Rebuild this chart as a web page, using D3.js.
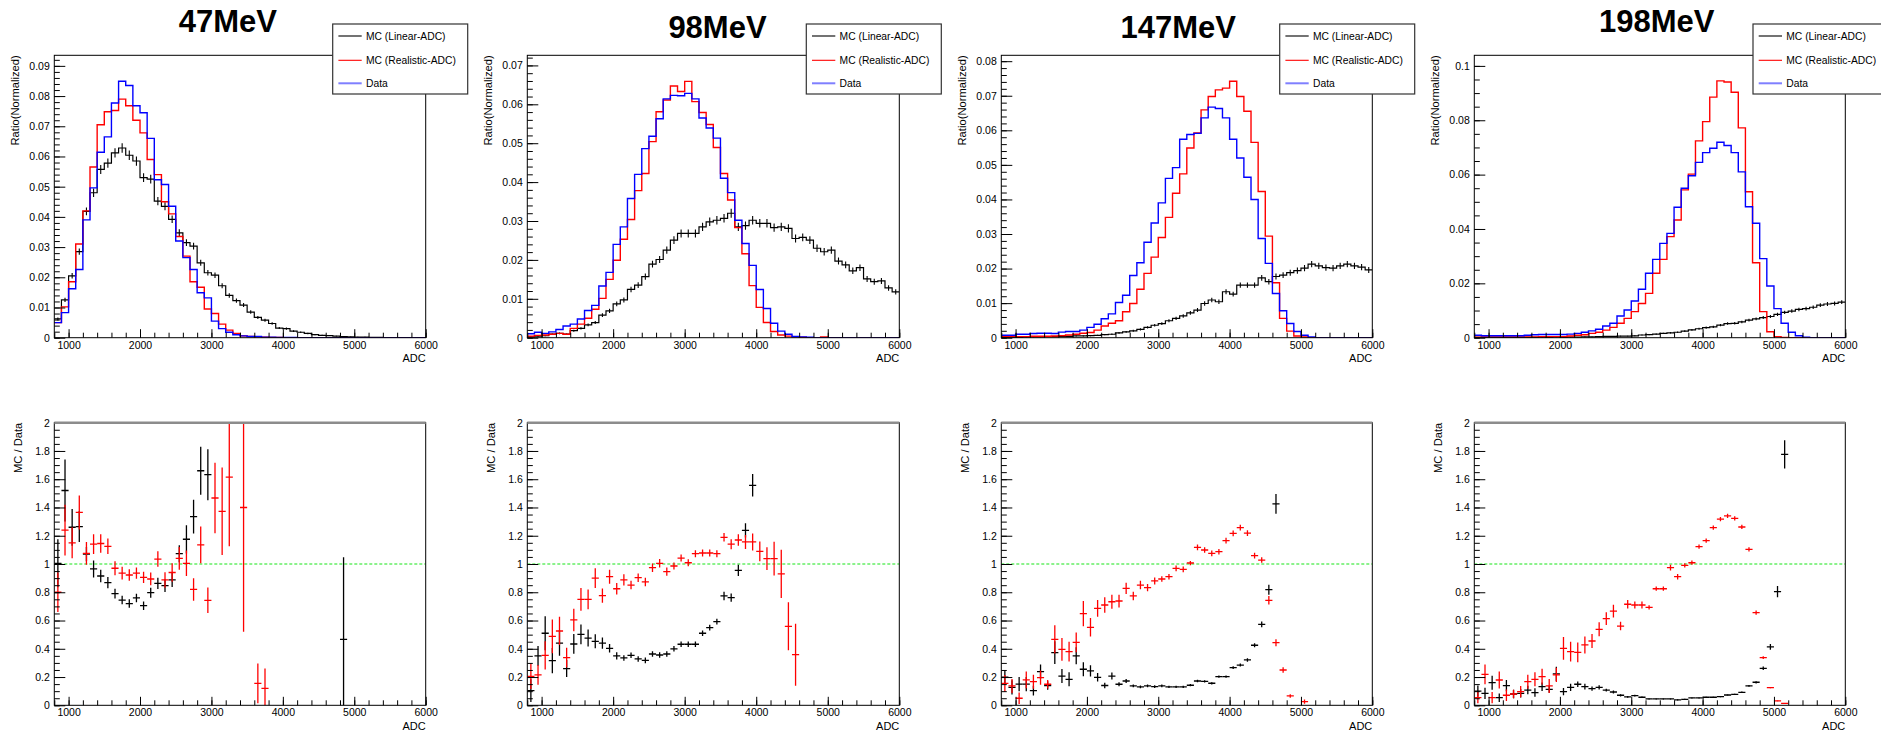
<!DOCTYPE html>
<html>
<head>
<meta charset="utf-8">
<script src="https://cdnjs.cloudflare.com/ajax/libs/d3/7.8.5/d3.min.js"></script>
<style>
body { margin: 0; background: #fff; }
svg { display: block; font-family: "Liberation Sans", Arial, Helvetica, sans-serif; }
</style>
</head>
<body>
<script>
// ADC histograms, 100-wide bins starting at 800
var binStart = 800, binWidth = 100, nBins = 52;
var energies = ["47MeV", "98MeV", "147MeV", "198MeV"];
var legendLabels = ["MC (Linear-ADC)", "MC (Realistic-ADC)", "Data"];
var xMajorTicks = [1000, 2000, 3000, 4000, 5000, 6000];

// ---- 47 MeV
var data47 = [.0050,.0083,.0162,.0226,.0390,.0496,.0614,.0665,.0777,.0849,.0835,.0768,.0745,.0660,.0523,.0507,.0435,.0320,.0265,.0226,.0149,.0132,.0055,.0030,.0018,.0010,.0006,.0004,.0004,.0002,.0002,.0001,.0001,.0001,0,0,0,0,0,0,0,0,0,0,0,0,0,0,0,0,0,0];
var realistic47 = [.0050,.0102,.0185,.0310,.0420,.0565,.0705,.0748,.0752,.0790,.0768,.0720,.0678,.0590,.0540,.0450,.0410,.0335,.0270,.0185,.0167,.0095,.0080,.0045,.0025,.0014,.0006,.0004,.0003,.0002,.0001,.0001,0,0,0,0,0,0,0,0,0,0,0,0,0,0,0,0,0,0,0,0];
var linear47 = [.0062,.0125,.0205,.0285,.0418,.0480,.0557,.0578,.0612,.0628,.0604,.0585,.0530,.0525,.0452,.0435,.0392,.0347,.0315,.0303,.0248,.0215,.0207,.0172,.0140,.0123,.0108,.0085,.0067,.0058,.0047,.0032,.0030,.0022,.0018,.0014,.0010,.0008,.0007,.0005,.0004,.0003,.0002,.0002,.0001,.0001,0,0,0,0,0,0];
var ratioLin47 = [1.005,1.52,1.26,1.265,1.07,.965,.915,.868,.79,.745,.72,.76,.705,.797,.863,.847,.887,1.073,1.175,1.335,1.66,1.632,null,null,null,null,null,null,null,null,null,null,null,null,null,null,null,null,null,null,.467];
var ratioLinErr47 = [.17,.22,.13,.11,.05,.06,.045,.04,.035,.03,.03,.03,.03,.035,.04,.045,.05,.06,.1,.12,.17,.18,null,null,null,null,null,null,null,null,null,null,null,null,null,null,null,null,null,null,.58];
var ratioReal47 = [.80,1.24,1.15,1.365,1.075,1.14,1.145,1.125,.97,.935,.922,.936,.905,.894,1.035,.887,.94,1.04,1.005,.82,1.135,.743,1.467,1.373,1.615,null,1.4,null,.155,.12];
var ratioRealErr47 = [.14,.18,.11,.12,.08,.07,.065,.055,.05,.045,.04,.04,.04,.045,.055,.055,.065,.08,.09,.08,.13,.09,.25,.31,.49,null,.88,null,.14,.14];

// ---- 98 MeV
var data98 = [.0010,.0014,.0011,.0015,.0021,.0030,.0035,.0048,.0070,.0083,.0133,.0168,.0240,.0285,.0358,.0420,.0486,.0518,.0563,.0614,.0623,.0622,.0628,.0614,.0565,.0539,.0513,.0410,.0373,.0302,.0242,.0186,.0124,.0075,.0037,.0017,.0009,.0003,.0002,.0001,0,0,0,0,0,0,0,0,0,0,0,0];
var realistic98 = [.0004,.0006,.0007,.0009,.0011,.0009,.0024,.0035,.0050,.0073,.0101,.0150,.0199,.0253,.0304,.0378,.0422,.0504,.0581,.0611,.0647,.0633,.0659,.0607,.0579,.0548,.0489,.0422,.0354,.0283,.0216,.0134,.0078,.0039,.0016,.0007,.0004,.0002,.0001,0,0,.0002,0,0,0,0,0,0,0,0,0,0];
var linear98 = [.0002,.0004,.0005,.0009,.0011,.0009,.0018,.0024,.0033,.0039,.0058,.0069,.0087,.0097,.0124,.0135,.0157,.0189,.0201,.0225,.0251,.0268,.0268,.0268,.0285,.0298,.0302,.0307,.0320,.0285,.0288,.0302,.0294,.0294,.0283,.0285,.0281,.0255,.0258,.0251,.0230,.0221,.0225,.0197,.0187,.0172,.0180,.0151,.0144,.0146,.0128,.0118];
var ratioLin98 = [.104,.35,.51,.316,.44,.26,.434,.502,.476,.453,.44,.403,.35,.335,.354,.328,.318,.363,.356,.363,.40,.432,.432,.432,.51,.55,.592,.774,.762,.955,1.238,1.557];
var ratioLinErr98 = [.08,.07,.12,.09,.09,.06,.07,.07,.06,.05,.04,.03,.025,.02,.02,.02,.02,.02,.02,.02,.02,.02,.02,.02,.02,.02,.02,.03,.03,.04,.05,.08];
var ratioReal98 = [.205,.215,.354,.488,.526,.337,.604,.75,.75,.9,.776,.91,.825,.887,.851,.903,.873,.974,1.005,.946,.986,1.042,1.009,1.073,1.078,1.078,1.073,1.189,1.14,1.17,1.156,1.156,1.09,1.038,1.038,.93,.559,.358];
var ratioRealErr98 = [.09,.07,.1,.12,.1,.07,.08,.08,.07,.07,.05,.05,.04,.04,.03,.03,.03,.03,.03,.03,.025,.025,.025,.025,.025,.025,.025,.03,.035,.04,.05,.06,.07,.08,.12,.17,.17,.22];

// ---- 147 MeV
var data147 = [.0007,.0007,.0010,.0010,.0012,.0013,.0013,.0012,.0016,.0018,.0018,.0022,.0030,.0039,.0055,.0069,.0102,.0123,.0180,.0217,.0276,.0332,.0390,.0461,.0492,.0574,.0588,.0591,.0636,.0667,.0663,.0636,.0574,.0520,.0464,.0400,.0287,.0215,.0128,.0078,.0041,.0018,.0007,.0002,0,0,0,0,0,0,0,0];
var realistic147 = [.0003,.0003,.0003,.0003,.0004,.0004,.0004,.0005,.0006,.0008,.0010,.0013,.0015,.0022,.0034,.0042,.0049,.0075,.0099,.0140,.0186,.0233,.0290,.0348,.0418,.0474,.0549,.0592,.0659,.0698,.0717,.0722,.0742,.0698,.0655,.0565,.0423,.0294,.0159,.0056,.0019,.0005,.0002,0,0,0,0,0,0,0,0,0];
var linear147 = [.0001,.0001,.0001,.0002,.0002,.0002,.0003,.0003,.0004,.0004,.0005,.0005,.0006,.0007,.0009,.0010,.0014,.0017,.0020,.0024,.0030,.0036,.0041,.0049,.0056,.0063,.0072,.0080,.0099,.0109,.0104,.0133,.0126,.0152,.0152,.0152,.0173,.0162,.0177,.0181,.0188,.0194,.0201,.0213,.0208,.0203,.0201,.0208,.0213,.0208,.0204,.0196];
var ratioLin147 = [.2,.127,.15,.15,.104,.238,.14,.373,.207,.184,.35,.255,.243,.198,.14,.207,.149,.172,.137,.13,.137,.132,.137,.13,.13,.13,.142,.172,.17,.156,.203,.203,.267,.285,.321,.425,.573,.818,1.425];
var ratioLinErr147 = [.05,.05,.05,.05,.035,.05,.03,.08,.05,.05,.06,.05,.04,.03,.02,.025,.015,.015,.01,.01,.01,.01,.01,.008,.008,.008,.008,.008,.008,.008,.008,.008,.01,.01,.012,.015,.02,.035,.07];
var ratioReal147 = [.155,.137,.05,.18,.167,.196,.149,.467,.396,.38,.446,.649,.552,.686,.71,.733,.738,.828,.774,.851,.833,.88,.894,.91,.969,.962,1.007,1.118,1.099,1.075,1.087,1.165,1.217,1.257,1.219,1.059,1.028,.743,.443,.25,.066,null,.026];
var ratioRealErr147 = [.06,.05,.04,.06,.05,.05,.03,.1,.08,.07,.07,.09,.065,.06,.055,.05,.045,.04,.03,.03,.025,.025,.02,.02,.02,.02,.015,.02,.02,.02,.02,.02,.02,.02,.02,.02,.02,.03,.025,.02,.012,null,.015];

// ---- 198 MeV
var data198 = [.0009,.0007,.0007,.0007,.0007,.0007,.0007,.0009,.0011,.0012,.0012,.0012,.0012,.0013,.0016,.0020,.0025,.0031,.0043,.0053,.0080,.0102,.0135,.0178,.0237,.0288,.0347,.0384,.0480,.0550,.0596,.0645,.0681,.0697,.0719,.0707,.0681,.0610,.0482,.0421,.0291,.0190,.0107,.0053,.0020,.0007,.0002,0,0,0,0,0];
var realistic198 = [.0002,.0003,.0003,.0003,.0003,.0003,.0003,.0003,.0003,.0004,.0004,.0004,.0004,.0006,.0009,.0011,.0016,.0020,.0028,.0038,.0053,.0071,.0096,.0126,.0163,.0237,.0288,.0372,.0433,.0544,.0602,.0724,.0795,.0885,.0945,.0941,.0903,.0772,.0537,.0276,.0096,.0022,.0004,.0001,0,0,0,0,0,0,0,0];
var linear198 = [.0001,.0001,.0001,.0001,.0001,.0001,.0001,.0001,.0001,.0002,.0001,.0003,.0001,.0002,.0002,.0003,.0003,.0004,.0005,.0005,.0006,.0006,.0007,.0010,.0011,.0013,.0016,.0018,.0020,.0024,.0029,.0033,.0037,.0040,.0046,.0052,.0053,.0058,.0065,.0069,.0074,.0078,.0086,.0093,.0098,.0104,.0107,.0112,.0120,.0124,.0126,.0131];
var ratioLin198 = [.101,.085,.16,.054,.139,.08,.085,.108,.09,.132,.113,.222,.097,.127,.149,.132,.118,.127,.108,.094,.071,.059,.068,.057,.045,.045,.045,.045,.038,.042,.052,.052,.057,.057,.061,.073,.078,.092,.137,.163,.262,.413,.804,1.776];
var ratioLinErr198 = [.04,.04,.05,.03,.04,.03,.03,.03,.03,.03,.025,.05,.025,.025,.02,.02,.015,.015,.01,.01,.008,.006,.006,.005,.004,.004,.004,.004,.004,.004,.004,.004,.004,.004,.004,.004,.004,.005,.006,.008,.012,.02,.04,.1];
var ratioReal198 = [.054,.219,.054,.179,.071,.08,.097,.167,.184,.203,.137,.215,.403,.38,.375,.427,.455,.538,.613,.667,.561,.715,.71,.71,.693,.825,.825,.974,.91,.99,1.009,1.123,1.165,1.257,1.318,1.34,1.323,1.262,1.104,.656,.337,.125,.031,.014];
var ratioRealErr198 = [.04,.07,.04,.06,.04,.03,.04,.05,.05,.055,.05,.05,.08,.07,.07,.06,.05,.05,.045,.045,.03,.03,.025,.025,.015,.015,.015,.02,.02,.015,.015,.015,.015,.015,.015,.015,.015,.015,.015,.015,.01,.005,.003,.003];

// y range of the upper pads, and tick steps
var yMaxTop = [0.0935, 0.0726, 0.0817, 0.1039];
var yStepTop = [0.01, 0.01, 0.01, 0.02];
var yMinorTop = [0.002, 0.002, 0.002, 0.005];
var nMC = 25000; // statistics used for the MC error bars

var panels = [
  {data: data47, lin: linear47, real: realistic47, rLin: ratioLin47, rLinErr: ratioLinErr47, rReal: ratioReal47, rRealErr: ratioRealErr47},
  {data: data98, lin: linear98, real: realistic98, rLin: ratioLin98, rLinErr: ratioLinErr98, rReal: ratioReal98, rRealErr: ratioRealErr98},
  {data: data147, lin: linear147, real: realistic147, rLin: ratioLin147, rLinErr: ratioLinErr147, rReal: ratioReal147, rRealErr: ratioRealErr147},
  {data: data198, lin: linear198, real: realistic198, rLin: ratioLin198, rLinErr: ratioLinErr198, rReal: ratioReal198, rRealErr: ratioRealErr198}
];

// layout
var width = 1881, height = 731;
var frameLeft = [54.3, 527.3, 1001.3, 1474.3],
    frameRight = [425.7, 899.3, 1372.3, 1845.3];
var topFrame = [55.3, 337.7], botFrame = [422.7, 705.3];
var titleX = [227.8, 717.5, 1178.3, 1656.7], titleY = [31.7, 38.3, 38.3, 31.7];
var legendX = [332.7, 806.3, 1279.7, 1753];
var colors = {lin: "#000000", real: "#ff0000", data: "#0000ff"};

var svg = d3.select("body").append("svg")
    .attr("width", width)
    .attr("height", height);

function fmt(d) { return String(+d.toFixed(3)); }

function steps(max, step) {
  return d3.range(0, Math.floor(max / step + 1e-6) + 1).map(function(k) { return +(k * step).toFixed(4); });
}

function drawAxes(g, x, y, yMajor, yMinor, base, fl) {
  var xa = g.append("g").attr("transform", "translate(0," + base + ")");
  xa.append("g").call(d3.axisBottom(x).tickValues(d3.range(800, 6001, 200)).tickSize(-5).tickFormat(""));
  xa.append("g").call(d3.axisBottom(x).tickValues(xMajorTicks).tickSize(-8.5).tickPadding(3.5).tickFormat(fmt));
  var ya = g.append("g").attr("transform", "translate(" + fl + ",0)");
  ya.append("g").call(d3.axisLeft(y).tickValues(yMinor).tickSize(-5.5).tickFormat(""));
  ya.append("g").call(d3.axisLeft(y).tickValues(yMajor).tickSize(-11).tickPadding(4.5).tickFormat(fmt));
  g.selectAll(".domain").remove();
  g.selectAll("g").attr("font-size", 10.5).attr("font-family", null);
  g.selectAll("text").attr("fill", "#000");
}

function binPoints(values) {
  var pts = values.map(function(v, k) { return {lo: binStart + k * binWidth, v: v}; });
  pts.push({lo: binStart + values.length * binWidth, v: values[values.length - 1]});
  return pts;
}

function ratioPoints(vals, errs) {
  var pts = [];
  vals.forEach(function(v, k) {
    if (v == null) return;
    pts.push({lo: binStart + k * binWidth, v: v, e: errs[k]});
  });
  return pts;
}

panels.forEach(function(p, i) {
  var fl = frameLeft[i], fr = frameRight[i];
  var x = d3.scaleLinear().domain([binStart, binStart + nBins * binWidth]).range([fl, fr]);
  var yTop = d3.scaleLinear().domain([0, yMaxTop[i]]).range([topFrame[1], topFrame[0]]);
  var yBot = d3.scaleLinear().domain([0, 2]).range([botFrame[1], botFrame[0]]);

  svg.append("clipPath").attr("id", "clipT" + i)
    .append("rect").attr("x", fl).attr("y", topFrame[0]).attr("width", fr - fl).attr("height", topFrame[1] - topFrame[0]);
  svg.append("clipPath").attr("id", "clipB" + i)
    .append("rect").attr("x", fl).attr("y", botFrame[0]).attr("width", fr - fl).attr("height", botFrame[1] - botFrame[0]);

  // ---------- upper pad
  var gt = svg.append("g").attr("class", "top-pad");
  var plot = gt.append("g").attr("clip-path", "url(#clipT" + i + ")");
  var line = d3.line()
      .x(function(d) { return x(d.lo); })
      .y(function(d) { return yTop(d.v); })
      .curve(d3.curveStepAfter);

  plot.append("path").datum(binPoints(p.lin))
    .attr("d", line).attr("fill", "none").attr("stroke", colors.lin).attr("stroke-width", 1.2);
  plot.selectAll("line.err").data(p.lin.map(function(v, k) { return {lo: binStart + k * binWidth, v: v}; }).filter(function(d) { return d.v > 0; }))
    .enter().append("line")
    .attr("class", "err")
    .attr("x1", function(d) { return x(d.lo + binWidth / 2); })
    .attr("x2", function(d) { return x(d.lo + binWidth / 2); })
    .attr("y1", function(d) { return yTop(d.v - Math.sqrt(d.v / nMC)); })
    .attr("y2", function(d) { return yTop(d.v + Math.sqrt(d.v / nMC)); })
    .attr("stroke", colors.lin).attr("stroke-width", 1.1);
  plot.append("path").datum(binPoints(p.real))
    .attr("d", line).attr("fill", "none").attr("stroke", colors.real).attr("stroke-width", 1.4);
  plot.append("path").datum(binPoints(p.data))
    .attr("d", line).attr("fill", "none").attr("stroke", colors.data).attr("stroke-width", 1.4);

  drawAxes(gt, x, yTop, steps(yMaxTop[i], yStepTop[i]), steps(yMaxTop[i], yMinorTop[i]), topFrame[1], fl);

  gt.append("rect")
    .attr("x", fl).attr("y", topFrame[0]).attr("width", fr - fl).attr("height", topFrame[1] - topFrame[0])
    .attr("fill", "none").attr("stroke", "#000").attr("stroke-width", 1);

  gt.append("text")
    .attr("transform", "translate(" + (fl - 35) + "," + topFrame[0] + ") rotate(-90)")
    .attr("text-anchor", "end").attr("font-size", 11.2)
    .text("Ratio(Normalized)");
  gt.append("text")
    .attr("x", fr).attr("y", topFrame[1] + 24.6)
    .attr("text-anchor", "end").attr("font-size", 11)
    .text("ADC");

  // ---------- lower pad
  var gb = svg.append("g").attr("class", "bottom-pad");
  var rplot = gb.append("g").attr("clip-path", "url(#clipB" + i + ")");

  rplot.append("line")
    .attr("x1", fl).attr("x2", fr).attr("y1", yBot(1)).attr("y2", yBot(1))
    .attr("stroke", "#19e619").attr("stroke-width", 1.2).attr("stroke-dasharray", "3,2");

  [[p.rLin, p.rLinErr, colors.lin], [p.rReal, p.rRealErr, colors.real]].forEach(function(s) {
    var pts = ratioPoints(s[0], s[1]);
    var cross = rplot.append("g").selectAll("g").data(pts).enter().append("g");
    cross.append("line")
      .attr("x1", function(d) { return x(d.lo); })
      .attr("x2", function(d) { return x(d.lo + binWidth); })
      .attr("y1", function(d) { return yBot(d.v); })
      .attr("y2", function(d) { return yBot(d.v); })
      .attr("stroke", s[2]).attr("stroke-width", 1.3);
    cross.append("line")
      .attr("x1", function(d) { return x(d.lo + binWidth / 2); })
      .attr("x2", function(d) { return x(d.lo + binWidth / 2); })
      .attr("y1", function(d) { return yBot(d.v - d.e); })
      .attr("y2", function(d) { return yBot(d.v + d.e); })
      .attr("stroke", s[2]).attr("stroke-width", 1.3);
  });

  drawAxes(gb, x, yBot, steps(2, 0.2), steps(2, 0.05), botFrame[1], fl);

  gb.append("rect")
    .attr("x", fl).attr("y", botFrame[0]).attr("width", fr - fl).attr("height", botFrame[1] - botFrame[0])
    .attr("fill", "none").attr("stroke", "#000").attr("stroke-width", 1);
  gb.append("line")
    .attr("x1", fl).attr("x2", fr).attr("y1", yBot(2)).attr("y2", yBot(2))
    .attr("stroke", "#8c8c8c").attr("stroke-width", 2.6);

  gb.append("text")
    .attr("transform", "translate(" + (fl - 32) + "," + botFrame[0] + ") rotate(-90)")
    .attr("text-anchor", "end").attr("font-size", 11.2)
    .text("MC / Data");
  gb.append("text")
    .attr("x", fr).attr("y", botFrame[1] + 24.7)
    .attr("text-anchor", "end").attr("font-size", 11)
    .text("ADC");

  // ---------- legend and title
  var lg = svg.append("g").attr("transform", "translate(" + legendX[i] + ",24)");
  lg.append("rect").attr("width", 135).attr("height", 70)
    .attr("fill", "#fff").attr("stroke", "#333").attr("stroke-width", 1.2);
  var rows = lg.selectAll("g.row").data(legendLabels).enter().append("g")
    .attr("class", "row")
    .attr("transform", function(d, k) { return "translate(0," + [12, 36.3, 59.3][k] + ")"; });
  rows.append("line")
    .attr("x1", 5.7).attr("x2", 29)
    .attr("stroke", function(d, k) { return [colors.lin, colors.real, "#7f7fff"][k]; })
    .attr("stroke-width", function(d, k) { return k === 2 ? 2 : 1.1; });
  rows.append("text")
    .attr("x", 33.3).attr("dy", "0.35em").attr("font-size", 10.3)
    .text(function(d) { return d; });

  svg.append("text")
    .attr("x", titleX[i]).attr("y", titleY[i])
    .attr("text-anchor", "middle")
    .attr("font-size", 31).attr("font-weight", "bold")
    .text(energies[i]);
});
</script>
</body>
</html>
